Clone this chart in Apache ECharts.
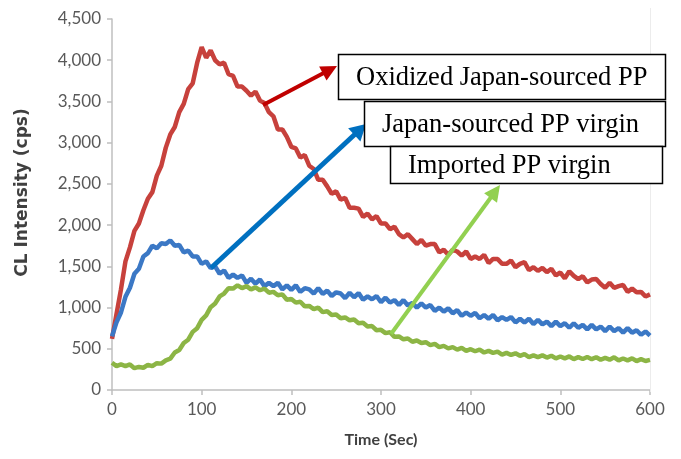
<!DOCTYPE html>
<html>
<head>
<meta charset="utf-8">
<script src="https://cdn.jsdelivr.net/npm/echarts@6/dist/echarts.min.js"></script>
<style>
html,body{margin:0;padding:0;background:#fff;}
#c{width:681px;height:459px;}
</style>
</head>
<body>
<div id="c"></div>
<script>
const times = [0,5,10,15,20,25,30,35,40,45,50,55,60,65,70,75,80,85,90,95,100,105,110,115,120,125,130,135,140,145,150,155,160,165,170,175,180,185,190,195,200,205,210,215,220,225,230,235,240,245,250,255,260,265,270,275,280,285,290,295,300,305,310,315,320,325,330,335,340,345,350,355,360,365,370,375,380,385,390,395,400,405,410,415,420,425,430,435,440,445,450,455,460,465,470,475,480,485,490,495,500,505,510,515,520,525,530,535,540,545,550,555,560,565,570,575,580,585,590,595,600];

const oxidizedJapan = [620,920,1220,1560,1730,1930,2020,2180,2320,2400,2600,2720,2940,3100,3190,3370,3470,3650,3720,3970,4160,4030,4120,4000,3950,3970,3830,3810,3680,3680,3630,3570,3620,3510,3480,3370,3320,3160,3160,3070,2950,2930,2820,2850,2720,2680,2550,2550,2470,2380,2410,2310,2330,2210,2210,2200,2100,2140,2070,2110,2020,2020,1950,1980,1890,1850,1890,1830,1770,1820,1750,1770,1770,1670,1700,1640,1700,1680,1630,1680,1590,1620,1590,1640,1540,1590,1590,1530,1530,1570,1490,1530,1550,1455,1490,1445,1480,1430,1470,1390,1425,1355,1440,1385,1345,1380,1305,1340,1345,1285,1240,1300,1240,1260,1275,1190,1230,1185,1190,1135,1160];

const japanVirgin = [650,820,940,1130,1240,1410,1470,1620,1660,1750,1720,1780,1770,1815,1750,1760,1670,1690,1620,1620,1530,1560,1480,1500,1410,1450,1360,1400,1360,1390,1300,1350,1290,1340,1260,1300,1260,1300,1220,1270,1215,1270,1190,1235,1220,1170,1235,1165,1205,1140,1185,1170,1115,1180,1125,1175,1095,1135,1100,1140,1065,1120,1060,1090,1030,1090,1025,1055,1000,1050,1000,1030,960,1000,950,990,930,970,900,940,900,935,870,910,865,910,845,885,850,885,820,865,820,865,800,850,795,830,775,830,775,810,755,810,755,790,735,790,735,770,715,770,715,750,695,750,695,725,670,710,660];

const importedVirgin = [330,290,310,290,310,265,280,270,305,290,325,320,360,380,455,485,570,610,705,750,850,905,1005,1050,1135,1170,1235,1230,1270,1235,1260,1220,1245,1210,1230,1180,1190,1150,1160,1095,1105,1060,1070,1015,1020,980,1000,945,955,910,915,870,880,845,855,810,815,770,775,725,730,690,700,645,650,615,625,585,600,570,580,545,560,520,535,505,520,490,510,475,495,470,490,455,475,450,465,430,450,425,445,415,435,400,420,398,420,393,415,383,406,384,407,375,398,376,400,374,398,367,390,368,396,359,382,360,383,351,374,352,365];

const seriesNames = ['Oxidized Japan-sourced PP','Japan-sourced PP virgin','Imported PP virgin'];
const xTicks = [0,100,200,300,400,500,600];
const yTicks = [0,500,1000,1500,2000,2500,3000,3500,4000,4500];

function pairs(vals){ return times.map((t,i)=>[t, vals[i]]); }

const chart = echarts.init(document.getElementById('c'), null, {renderer:'canvas'});

function arrow(x1,y1,x2,y2,color,w,hl,hw){
  const dx=x2-x1, dy=y2-y1, L=Math.sqrt(dx*dx+dy*dy);
  const ux=dx/L, uy=dy/L, px=-uy, py=ux;
  const bx=x2-ux*hl, by=y2-uy*hl;
  return [
    {type:'line', z:50, shape:{x1:x1,y1:y1,x2:bx+ux*2,y2:by+uy*2}, style:{stroke:color,lineWidth:w}},
    {type:'polygon', z:50, shape:{points:[[x2,y2],[bx+px*hw,by+py*hw],[bx-px*hw,by-py*hw]]}, style:{fill:color}}
  ];
}

function box(x,y,w,h,text,tx){
  return [
    {type:'rect', z:60, shape:{x:x,y:y,width:w,height:h}, style:{fill:'#fff',stroke:'#000',lineWidth:1.5}},
    {type:'text', z:61, x:tx, y:y+h/2+1, style:{text:text, font:'26.5px "Liberation Serif", "Times New Roman", serif', fill:'#000', verticalAlign:'middle', align:'left'}}
  ];
}

const graphics = [].concat(
  [{type:'line', z:1, shape:{x1:650.5,y1:8,x2:650.5,y2:392}, style:{stroke:'#ececec',lineWidth:1}}],
  arrow(263,105,337,66,'#c00000',4,16,8),
  arrow(211,268,366,124,'#0070c0',5,16,9),
  arrow(391,334,500,185,'#92d050',4,16,8),
  box(338.5,54.5,327,45,seriesNames[0],356),
  box(364.5,101.5,301,45,seriesNames[1],382),
  box(390.5,146.5,272,37,seriesNames[2],408)
);

const labelFont = {fontFamily:'Lato, "Open Sans", sans-serif', fontSize:17, color:'#595959'};

chart.setOption({
  animation:false,
  backgroundColor:'#fff',
  grid:{left:112,right:31,top:19,bottom:69,containLabel:false},
  xAxis:{
    type:'value', min:0, max:600, interval:100,
    name:'Time (Sec)', nameLocation:'middle', nameGap:42,
    nameTextStyle:{fontFamily:'Lato, "Open Sans", sans-serif', fontSize:16, fontWeight:'bold', color:'#404040'},
    axisLine:{show:true, lineStyle:{color:'#bfbfbf', width:1.5}},
    axisTick:{show:true, length:5, inside:false, lineStyle:{color:'#bfbfbf', width:1.5}},
    axisLabel:Object.assign({margin:11, formatter:v=>String(v)}, labelFont),
    splitLine:{show:false}
  },
  yAxis:{
    type:'value', min:0, max:4500, interval:500,
    name:'CL Intensity (cps)', nameLocation:'middle', nameGap:81, nameRotate:90,
    nameTextStyle:{fontFamily:'"DejaVu Sans", sans-serif', fontSize:17, fontWeight:'bold', color:'#404040', padding:[0,0,0,24]},
    axisLine:{show:true, lineStyle:{color:'#bfbfbf', width:1.5}},
    axisTick:{show:true, length:5, inside:false, lineStyle:{color:'#bfbfbf', width:1.5}},
    axisLabel:Object.assign({margin:11, formatter:v=>v.toLocaleString('en-US')}, labelFont),
    splitLine:{show:false}
  },
  series:[
    {name:seriesNames[0], type:'line', data:pairs(oxidizedJapan), showSymbol:false, symbol:'none', lineStyle:{color:'#c7413c', width:4.5}, z:3},
    {name:seriesNames[1], type:'line', data:pairs(japanVirgin), showSymbol:false, symbol:'none', lineStyle:{color:'#3b78c5', width:4.5}, z:3},
    {name:seriesNames[2], type:'line', data:pairs(importedVirgin), showSymbol:false, symbol:'none', lineStyle:{color:'#8cb545', width:4.5}, z:3}
  ],
  graphic:graphics
});
</script>
</body>
</html>
